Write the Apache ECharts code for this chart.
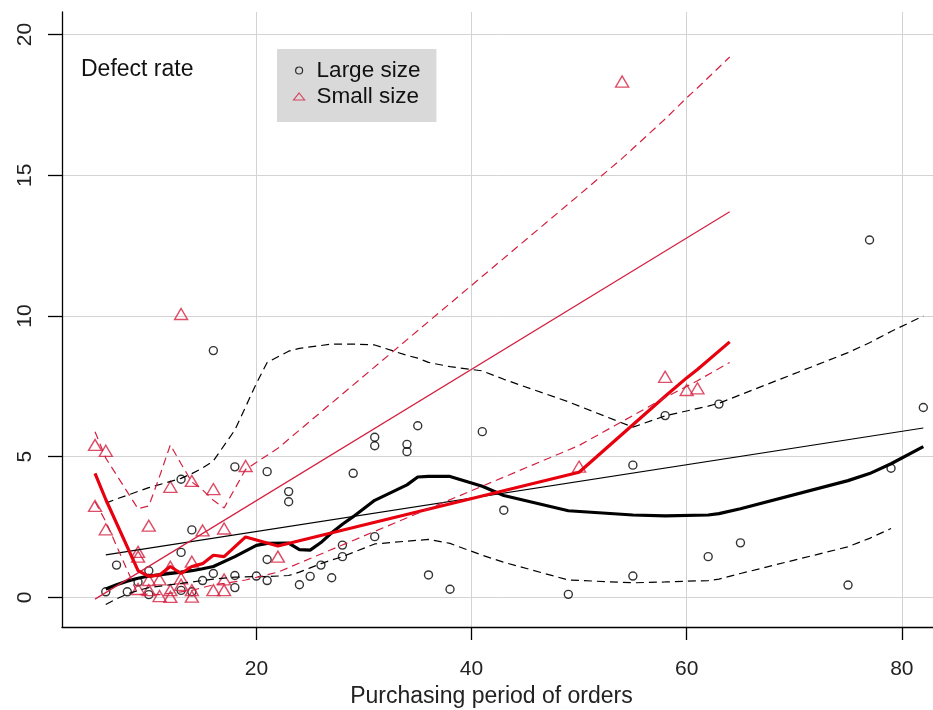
<!DOCTYPE html>
<html>
<head>
<meta charset="utf-8">
<script src="https://cdn.jsdelivr.net/npm/echarts@6/dist/echarts.min.js"></script>
<style>
  html, body { margin: 0; padding: 0; background: #fff; }
  #chart { width: 933px; height: 710px; }
</style>
</head>
<body>
<div id="chart"></div>
<script>
// Tick positions
const xTicks = [20, 40, 60, 80];
const yTicks = [0, 5, 10, 15, 20];

// Large size orders: purchasing period vs defect rate
const largeX = [6,7,8,9,10,10,13,13,13,14,14,15,16,16,18,18,18,20,21,21,21,23,23,24,25,26,27,28,28,29,31,31,31,34,34,35,36,38,41,43,49,55,55,58,62,63,65,75,77,79,82];
const largeY = [0.2,1.15,0.2,0.55,0.1,0.95,4.2,1.6,0.25,2.4,0.2,0.6,8.77,0.85,4.64,0.78,0.35,0.76,4.47,1.35,0.6,3.76,3.4,0.45,0.75,1.15,0.7,1.86,1.45,4.41,5.69,5.39,2.16,5.44,5.18,6.1,0.8,0.29,5.89,3.1,0.11,4.7,0.76,6.46,1.45,6.87,1.94,0.44,12.7,4.59,6.75];

// Small size orders
const smallX = [5,5,6,6,9,9,9,10,10,10,11,11,12,12,12,12,13,13,13,14,14,14,14,15,16,16,17,17,17,19,22,50,54,58,60,61];
const smallY = [5.42,3.25,5.21,2.42,1.62,1.45,0.3,2.55,0.62,0.26,0.64,0.05,3.93,1.09,0.26,0.02,10.07,0.68,0.45,4.14,1.27,0.26,0.03,2.38,3.85,0.26,2.45,0.64,0.26,4.67,1.45,4.65,18.33,7.84,7.37,7.43];

// Linear fits (end points)
const largeFitX = [6, 82];
const largeFitY = [1.51, 6.02];
const smallFitX = [5, 64];
const smallFitY = [-0.06, 13.7];

// Smoothed curves with upper / lower spread, large size
const largeSmoothX = [6,7,8,9,10,13,14,15,16,18,20,21,23,24,25,26,27,28,29,31,34,35,36,38,41,43,49,55,58,62,63,65,75,77,79,82];
const largeSmoothY = [0.3,0.45,0.58,0.68,0.76,0.9,0.95,1.02,1.1,1.45,1.85,1.92,1.93,1.7,1.68,1.95,2.3,2.6,2.87,3.45,4.0,4.28,4.3,4.3,3.95,3.62,3.08,2.93,2.9,2.93,2.98,3.15,4.15,4.4,4.75,5.36];
const largeUpperY = [3.35,3.5,3.63,3.77,3.9,4.23,4.4,4.6,4.85,5.95,7.6,8.35,8.75,8.85,8.9,8.95,9.0,9.0,9.0,8.97,8.6,8.5,8.35,8.2,8.05,7.75,6.95,6.05,6.45,6.8,6.9,7.2,8.7,9.05,9.45,10.0];
const largeLowerX = [6,7,8,9,10,13,14,15,16,18,20,21,23,24,25,26,27,28,29,31,34,35,36,38,41,43,49,55,58,62,63,65,75,77,79];
const largeLowerY = [-0.25,-0.05,0.12,0.25,0.35,0.5,0.55,0.6,0.65,0.72,0.74,0.74,0.78,0.9,1.05,1.2,1.33,1.45,1.6,1.9,2.0,2.03,2.06,1.92,1.5,1.25,0.62,0.52,0.55,0.6,0.65,0.85,1.8,2.1,2.45];

// Smoothed curves with upper / lower spread, small size
const smallSmoothX = [5,6,9,10,11,12,13,14,15,16,17,19,22,50,54,58,60,61,64];
const smallSmoothY = [4.41,3.48,0.95,0.75,0.8,1.1,0.85,1.1,1.2,1.5,1.45,2.15,1.83,4.45,5.8,7.15,7.8,8.1,9.08];
const smallUpperY = [5.89,4.95,3.15,3.25,4.3,5.42,4.75,4.1,3.82,3.45,3.18,4.55,5.3,14.3,15.6,17.0,17.75,18.1,19.2];
const smallLowerY = [3.4,2.7,0.1,0.12,0.1,0.15,0.2,0.25,0.35,0.45,0.5,0.62,0.9,5.4,6.25,7.1,7.5,7.7,8.35];

const zip = (xs, ys) => xs.map((x, i) => [x, ys[i]]);

const FONT = '"Liberation Sans", Arial, sans-serif';
const BLACK = '#000000';
const RED_THIN = '#d42040';
const RED_THICK = '#e8000f';

function lineSeries(name, xs, ys, color, width, dashed) {
  return {
    name: name,
    type: 'line',
    data: zip(xs, ys),
    showSymbol: false,
    symbol: 'none',
    silent: true,
    z: 4,
    lineStyle: { color: color, width: width, type: dashed ? [8, 5] : 'solid' }
  };
}

const chart = echarts.init(document.getElementById('chart'), null, { renderer: 'canvas' });

chart.setOption({
  animation: false,
  backgroundColor: '#ffffff',
  textStyle: { fontFamily: FONT },
  title: {
    text: 'Defect rate',
    left: 76,
    top: 53,
    textStyle: { fontFamily: FONT, fontSize: 23, fontWeight: 'normal', color: '#111' }
  },
  legend: {
    orient: 'vertical',
    left: 277,
    top: 49,
    padding: [10, 16, 14, 16],
    backgroundColor: '#d9d9d9',
    itemGap: 3,
    itemWidth: 11,
    itemHeight: 7,
    selectedMode: false,
    textStyle: { fontFamily: FONT, fontSize: 22.5, color: '#111', padding: [0, 0, 0, 7] },
    data: [
      { name: 'Large size', icon: 'circle',
        itemStyle: { color: 'rgba(0,0,0,0)', borderColor: BLACK, borderWidth: 1.2 } },
      { name: 'Small size', icon: 'triangle',
        itemStyle: { color: 'rgba(0,0,0,0)', borderColor: RED_THIN, borderWidth: 1.2 } }
    ]
  },
  grid: { left: 62, right: 0, top: 12, bottom: 83, containLabel: false, outerBoundsMode: 'none' },
  xAxis: {
    type: 'value',
    min: 1.93,
    max: 82.9,
    name: 'Purchasing period of orders',
    nameLocation: 'middle',
    nameGap: 50,
    nameTextStyle: { fontFamily: FONT, fontSize: 23, color: '#222', padding: [0, 12, 0, 0] },
    axisLine: { show: true, onZero: false, lineStyle: { color: BLACK, width: 1.3 } },
    axisTick: { show: true, length: 13, customValues: xTicks, lineStyle: { color: BLACK, width: 1.3 } },
    axisLabel: { customValues: xTicks, margin: 32, fontFamily: FONT, fontSize: 21, color: '#222' },
    splitLine: { show: true, lineStyle: { color: '#d3d3d3', width: 1 } }
  },
  yAxis: {
    type: 'value',
    min: -1.05,
    max: 20.8,
    axisLine: { show: true, onZero: false, lineStyle: { color: BLACK, width: 1.3 } },
    axisTick: { show: true, length: 14, customValues: yTicks, lineStyle: { color: BLACK, width: 1.3 } },
    axisLabel: { customValues: yTicks, rotate: 90, margin: 26, fontFamily: FONT, fontSize: 21, color: '#222' },
    splitLine: { show: true, lineStyle: { color: '#d3d3d3', width: 1 } }
  },
  series: [
    {
      name: 'Large size',
      type: 'scatter',
      data: zip(largeX, largeY),
      symbol: 'circle',
      symbolSize: 8,
      z: 3,
      itemStyle: { color: 'rgba(0,0,0,0)', borderColor: BLACK, borderWidth: 1.4 }
    },
    {
      name: 'Small size',
      type: 'scatter',
      data: zip(smallX, smallY),
      symbol: 'triangle',
      symbolSize: [13, 11],
      z: 3,
      itemStyle: { color: 'rgba(0,0,0,0)', borderColor: RED_THIN, borderWidth: 1.4 }
    },
    lineSeries('large fit', largeFitX, largeFitY, BLACK, 1.2, false),
    lineSeries('large smooth', largeSmoothX, largeSmoothY, BLACK, 3.2, false),
    lineSeries('large upper', largeSmoothX, largeUpperY, BLACK, 1.2, true),
    lineSeries('large lower', largeLowerX, largeLowerY, BLACK, 1.2, true),
    lineSeries('small fit', smallFitX, smallFitY, RED_THIN, 1.2, false),
    lineSeries('small smooth', smallSmoothX, smallSmoothY, RED_THICK, 3.2, false),
    lineSeries('small upper', smallSmoothX, smallUpperY, RED_THIN, 1.2, true),
    lineSeries('small lower', smallSmoothX, smallLowerY, RED_THIN, 1.2, true)
  ]
});
</script>
</body>
</html>
